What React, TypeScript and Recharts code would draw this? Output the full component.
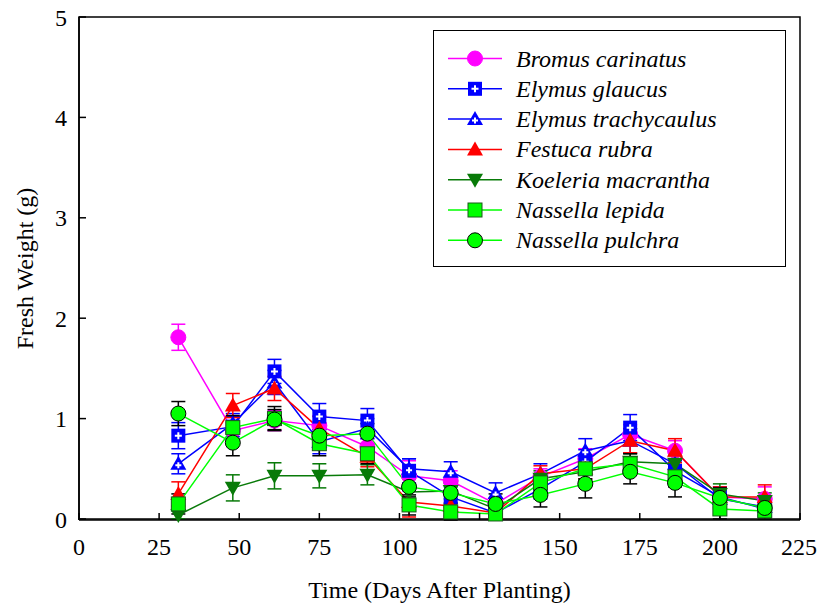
import {
  ComposedChart,
  Line,
  XAxis,
  YAxis,
  ErrorBar,
  Legend,
  ReferenceArea,
  Label,
} from "recharts";

// sampling days (days after planting)
const days = [31, 48, 61, 75, 90, 103, 116, 130, 144, 158, 172, 186, 200, 214];

const bromus = [1.81, 0.88, 0.98, 0.93, 0.72, 0.43, 0.38, 0.15, 0.42, 0.6, 0.84, 0.68, 0.22, 0.2];
const bromusErr = [0.13, 0.08, 0.1, 0.1, 0.08, 0.15, 0.1, 0.06, 0.08, 0.1, 0.1, 0.1, 0.08, 0.12];

const glaucus = [0.83, 0.92, 1.47, 1.02, 0.98, 0.48, 0.22, 0.06, 0.3, 0.57, 0.91, 0.48, 0.22, 0.1];
const glaucusErr = [0.13, 0.1, 0.12, 0.13, 0.12, 0.12, 0.1, 0.06, 0.1, 0.12, 0.13, 0.1, 0.1, 0.08];

const trachy = [0.55, 0.95, 1.36, 0.77, 0.9, 0.5, 0.47, 0.26, 0.45, 0.68, 0.78, 0.55, 0.2, 0.12];
const trachyErr = [0.1, 0.1, 0.12, 0.12, 0.1, 0.1, 0.1, 0.1, 0.1, 0.12, 0.12, 0.1, 0.1, 0.08];

const festuca = [0.25, 1.13, 1.3, 0.9, 0.62, 0.17, 0.13, 0.06, 0.45, 0.5, 0.78, 0.68, 0.22, 0.22];
const festucaErr = [0.12, 0.12, 0.12, 0.12, 0.1, 0.15, 0.1, 0.06, 0.08, 0.1, 0.12, 0.12, 0.1, 0.12];

const koeleria = [0.04, 0.31, 0.43, 0.43, 0.44, 0.27, 0.28, 0.1, 0.4, 0.47, 0.57, 0.55, 0.25, 0.18];
const koeleriaErr = [0.04, 0.13, 0.13, 0.12, 0.1, 0.08, 0.08, 0.06, 0.08, 0.08, 0.08, 0.08, 0.1, 0.08];

const lepida = [0.15, 0.91, 1.0, 0.75, 0.65, 0.14, 0.07, 0.05, 0.36, 0.5, 0.55, 0.42, 0.1, 0.08];
const lepidaErr = [0.1, 0.12, 0.12, 0.12, 0.1, 0.1, 0.08, 0.05, 0.08, 0.1, 0.1, 0.1, 0.1, 0.08];

const pulchra = [1.05, 0.76, 0.99, 0.83, 0.85, 0.32, 0.26, 0.15, 0.24, 0.35, 0.47, 0.36, 0.21, 0.11];
const pulchraErr = [0.12, 0.13, 0.1, 0.12, 0.1, 0.1, 0.1, 0.1, 0.12, 0.14, 0.12, 0.14, 0.1, 0.08];

const xTicks = [0, 25, 50, 75, 100, 125, 150, 175, 200, 225];
const yTicks = [0, 1, 2, 3, 4, 5];

const FONT = "Liberation Serif, Times New Roman, Times, serif";
const FS = 24;

const series = [
  { key: "bc", name: "Bromus carinatus", color: "#ff00ff", err: "#ff00ff", shape: "circle", values: bromus, errs: bromusErr },
  { key: "eg", name: "Elymus glaucus", color: "#0000ff", err: "#0000ff", shape: "squarePlus", values: glaucus, errs: glaucusErr },
  { key: "et", name: "Elymus trachycaulus", color: "#0000ff", err: "#0000ff", shape: "trianglePlus", values: trachy, errs: trachyErr },
  { key: "fr", name: "Festuca rubra", color: "#ff0000", err: "#ff0000", shape: "triangle", values: festuca, errs: festucaErr },
  { key: "km", name: "Koeleria macrantha", color: "#087a08", err: "#087a08", shape: "triangleDown", values: koeleria, errs: koeleriaErr },
  { key: "nl", name: "Nassella lepida", color: "#00ff00", err: "#000000", shape: "square", values: lepida, errs: lepidaErr },
  { key: "np", name: "Nassella pulchra", color: "#00ff00", err: "#000000", shape: "circleOutline", values: pulchra, errs: pulchraErr },
];

const data = days.map((d, i) => {
  const row: Record<string, number> = { day: d };
  series.forEach((s) => {
    row[s.key] = s.values[i];
    row[s.key + "Err"] = s.errs[i];
  });
  return row;
});

function Marker({ shape, cx, cy, color }: { shape: string; cx: number; cy: number; color: string }) {
  switch (shape) {
    case "circle":
      return <circle cx={cx} cy={cy} r={7.5} fill={color} stroke={color} />;
    case "circleOutline":
      return <circle cx={cx} cy={cy} r={7.5} fill={color} stroke="#000" strokeWidth={1} />;
    case "squarePlus":
      return (
        <g>
          <rect x={cx - 7} y={cy - 7} width={14} height={14} fill={color} />
          <path d={`M${cx - 3.5},${cy}h7M${cx},${cy - 3.5}v7`} stroke="#fff" strokeWidth={2} />
        </g>
      );
    case "trianglePlus":
      return (
        <g>
          <polygon points={`${cx},${cy - 8} ${cx + 8},${cy + 6} ${cx - 8},${cy + 6}`} fill={color} />
          <path d={`M${cx - 3},${cy + 1.5}h6M${cx},${cy - 1.5}v6`} stroke="#fff" strokeWidth={2} />
        </g>
      );
    case "triangle":
      return <polygon points={`${cx},${cy - 8} ${cx + 8},${cy + 6} ${cx - 8},${cy + 6}`} fill={color} />;
    case "triangleDown":
      return <polygon points={`${cx - 8},${cy - 6} ${cx + 8},${cy - 6} ${cx},${cy + 8}`} fill={color} />;
    case "square":
      return <rect x={cx - 7} y={cy - 7} width={14} height={14} fill={color} stroke="#1a5a1a" strokeWidth={1} />;
    default:
      return null;
  }
}

function LegendBox() {
  return (
    <div style={{ width: 353, height: 237, border: "1.5px solid #000", boxSizing: "border-box", background: "#fff" }}>
      <svg width={350} height={234}>
        {series.map((s, i) => {
          const y = 27.5 + i * 30.3;
          return (
            <g key={s.key}>
              <line x1={14} x2={68} y1={y} y2={y} stroke={s.color} strokeWidth={1.5} />
              <Marker shape={s.shape} cx={41} cy={y} color={s.color} />
              <text
                x={82}
                y={y}
                dominantBaseline="central"
                style={{ fontFamily: FONT, fontStyle: "italic", fontSize: FS }}
                fill="#000"
              >
                {s.name}
              </text>
            </g>
          );
        })}
      </svg>
    </div>
  );
}

const tickStyle = { fontFamily: FONT, fontSize: FS, fill: "#000" };

export default function App() {
  return (
    <div style={{ position: "absolute", left: 0, top: 0, background: "#fff", fontFamily: FONT }}>
      <ComposedChart width={817} height={606} data={data} margin={{ top: 17, right: 17, bottom: 0, left: 0 }}>
        <ReferenceArea x1={0} x2={225} y1={0} y2={5} fill="none" stroke="#000" strokeWidth={1.5} ifOverflow="visible" />
        <XAxis
          dataKey="day"
          type="number"
          domain={[0, 225]}
          ticks={xTicks}
          height={86}
          tickSize={-7}
          tickMargin={25}
          tick={tickStyle}
          axisLine={{ stroke: "#000", strokeWidth: 1.5 }}
          tickLine={{ stroke: "#000", strokeWidth: 1.5 }}
          allowDecimals={false}
        >
          <Label
            content={({ viewBox }: any) => (
              <text
                x={viewBox.x + viewBox.width / 2}
                y={598}
                textAnchor="middle"
                style={{ fontFamily: FONT, fontSize: FS }}
                fill="#000"
              >
                Time (Days After Planting)
              </text>
            )}
          />
        </XAxis>
        <YAxis
          type="number"
          domain={[0, 5]}
          ticks={yTicks}
          width={79}
          tickSize={-7}
          tickMargin={19}
          tick={tickStyle}
          axisLine={{ stroke: "#000", strokeWidth: 1.5 }}
          tickLine={{ stroke: "#000", strokeWidth: 1.5 }}
        >
          <Label
            content={({ viewBox }: any) => {
              const cy = viewBox.y + viewBox.height / 2;
              return (
                <text
                  x={25}
                  y={cy}
                  transform={`rotate(-90 25 ${cy})`}
                  textAnchor="middle"
                  dominantBaseline="central"
                  style={{ fontFamily: FONT, fontSize: FS }}
                  fill="#000"
                >
                  Fresh Weight (g)
                </text>
              );
            }}
          />
        </YAxis>
        {series.map((s) => (
          <Line
            key={s.key}
            dataKey={s.key}
            name={s.name}
            type="linear"
            stroke={s.color}
            strokeWidth={1.5}
            isAnimationActive={false}
            activeDot={false}
            dot={(p: any) => <Marker key={`${s.key}-${p.index}`} shape={s.shape} cx={p.cx} cy={p.cy} color={s.color} />}
          >
            <ErrorBar dataKey={s.key + "Err"} width={7} stroke={s.err} strokeWidth={1.5} direction="y" />
          </Line>
        ))}
        <Legend
          layout="vertical"
          align="center"
          verticalAlign="middle"
          wrapperStyle={{ left: 433, top: 30, width: 353, height: 237 }}
          content={() => <LegendBox />}
        />
      </ComposedChart>
    </div>
  );
}
